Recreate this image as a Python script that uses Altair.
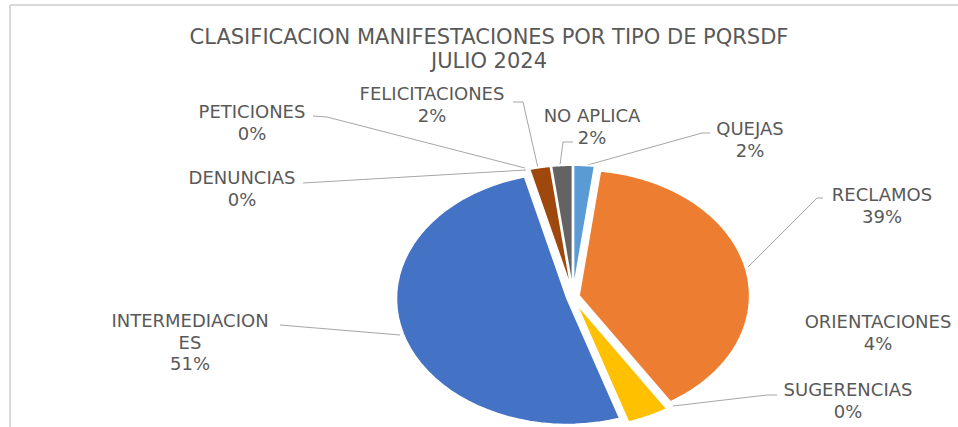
import altair as alt
import pandas as pd

# ---------------- data ----------------
categories = ["QUEJAS", "RECLAMOS", "ORIENTACIONES", "SUGERENCIAS", "INTERMEDIACIONES",
              "DENUNCIAS", "PETICIONES", "FELICITACIONES", "NO APLICA"]
values = [2, 39, 4, 0, 51, 0, 0, 2, 2]
colors = ["#5B9BD5", "#ED7D31", "#FFC000", "#A5A5A5", "#4472C4",
          "#70AD47", "#264478", "#9E480E", "#636363"]
label_names = [["QUEJAS"], ["RECLAMOS"], ["ORIENTACIONES"], ["SUGERENCIAS"],
               ["INTERMEDIACION", "ES"], ["DENUNCIAS"], ["PETICIONES"],
               ["FELICITACIONES"], ["NO APLICA"]]
title_lines = ["CLASIFICACION MANIFESTACIONES POR TIPO DE PQRSDF", "JULIO 2024"]

# ---------------- layout ----------------
W, H = 958, 427
CX, CY, RX, RY = 573, 297, 171, 126
EXPLODE = 6
K = RY / RX
label_pos = [(750, 130), (882, 196), (878, 323), (848, 391), (190, 322),
             (242, 179), (252, 113), (432, 95), (592, 117)]
LINE_H = 21.5
leaders = [
    ("QUEJAS", [(710, 133), (702, 133), (584, 166)]),
    ("RECLAMOS", [(823, 198), (817, 198), (748, 267)]),
    ("SUGERENCIAS", [(777, 395), (767, 395), (673, 406)]),
    ("INTERMEDIACIONES", [(280, 325), (400, 335)]),
    ("DENUNCIAS", [(303, 183), (526, 170)]),
    ("PETICIONES", [(313, 116), (327, 117), (525, 168)]),
    ("FELICITACIONES", [(513, 102), (523, 102), (538, 168)]),
    ("NO APLICA", [(573, 142), (563, 142), (560, 165)]),
]
FONT = "DejaVu Sans"
TXT = "#595959"

df = pd.DataFrame({"cat": categories, "value": values, "idx": list(range(len(values)))})

lab_rows = []
for (x, y), names, v in zip(label_pos, label_names, values):
    for i, t in enumerate(names + [f"{v:.0f}%"]):
        lab_rows.append({"px": x, "py": y + i * LINE_H, "txt": t})
lab_df = pd.DataFrame(lab_rows)

seg_rows = []
for name, pts in leaders:
    for (x1, y1), (x2, y2) in zip(pts[:-1], pts[1:]):
        seg_rows.append({"id": name, "sx": x1, "sy": y1, "ex": x2, "ey": y2})
seg_df = pd.DataFrame(seg_rows)

title_df = pd.DataFrame({"txt": title_lines, "px": [489, 489], "py": [38, 62]})

# ---------------- pie (elliptical, exploded) ----------------
N = 48
def r4(e):
    return f"(round(({e}) * 10000) / 10000)"

def pt(i):
    a = f"(datum.a0 + (datum.a1 - datum.a0) * {i} / {N})"
    return (f"' L' + {r4(f'datum.ox + sin({a})')} + ',' + "
            f"{r4(f'datum.oy - {K:.5f} * cos({a})')}")

path_expr = (f"'M' + {r4('datum.ox')} + ',' + {r4('datum.oy')} + "
             + " + ".join(pt(i) for i in range(N + 1)) + " + ' Z'")

pie = (
    alt.Chart(df)
    .transform_joinaggregate(total="sum(value)")
    .transform_window(cum="sum(value)", sort=[alt.SortField("idx")], frame=[None, 0])
    .transform_calculate(a0="2*PI*(datum.cum - datum.value)/datum.total",
                         a1="2*PI*datum.cum/datum.total")
    .transform_calculate(m="(datum.a0 + datum.a1)/2")
    .transform_calculate(ox=f"{EXPLODE / RX:.5f}*sin(datum.m)",
                         oy=f"-{EXPLODE / RX:.5f}*cos(datum.m)")
    .transform_filter("datum.value > 0")
    .transform_calculate(path=path_expr)
    .mark_point(filled=True, opacity=1, stroke="white", strokeWidth=2,
                size=(2 * RX) ** 2)
    .encode(
        x=alt.value(CX),
        y=alt.value(CY),
        shape=alt.Shape("path:N", scale=None, legend=None),
        color=alt.Color("cat:N", scale=alt.Scale(domain=categories, range=colors), legend=None),
    )
)

segs = (
    alt.Chart(seg_df)
    .mark_rule(color="#A6A6A6", strokeWidth=1)
    .encode(x=alt.X("sx:Q", scale=None, axis=None), y=alt.Y("sy:Q", scale=None, axis=None),
            x2="ex:Q", y2="ey:Q")
)

labels = (
    alt.Chart(lab_df)
    .mark_text(font=FONT, fontSize=18, color=TXT, align="center", baseline="middle")
    .encode(x=alt.X("px:Q", scale=None, axis=None),
            y=alt.Y("py:Q", scale=None, axis=None),
            text="txt:N")
)

title = (
    alt.Chart(title_df)
    .mark_text(font=FONT, fontSize=21, color=TXT, align="center", baseline="middle")
    .encode(x=alt.X("px:Q", scale=None, axis=None),
            y=alt.Y("py:Q", scale=None, axis=None),
            text="txt:N")
)

border_top = alt.Chart(title_df).mark_rule(color="#D9D9D9", strokeWidth=2).encode(
    x=alt.value(10), x2=alt.value(W), y=alt.value(5))
border_left = alt.Chart(title_df).mark_rule(color="#D9D9D9", strokeWidth=2).encode(
    x=alt.value(10), y=alt.value(5), y2=alt.value(H))

chart = (
    alt.layer(border_top, border_left, segs, labels, title, pie)
    .properties(width=W, height=H, padding=0, autosize=alt.AutoSizeParams(type="none"))
    .configure_view(stroke=None)
)

chart.save("out.html", embed_options={"renderer": "svg", "actions": False})
